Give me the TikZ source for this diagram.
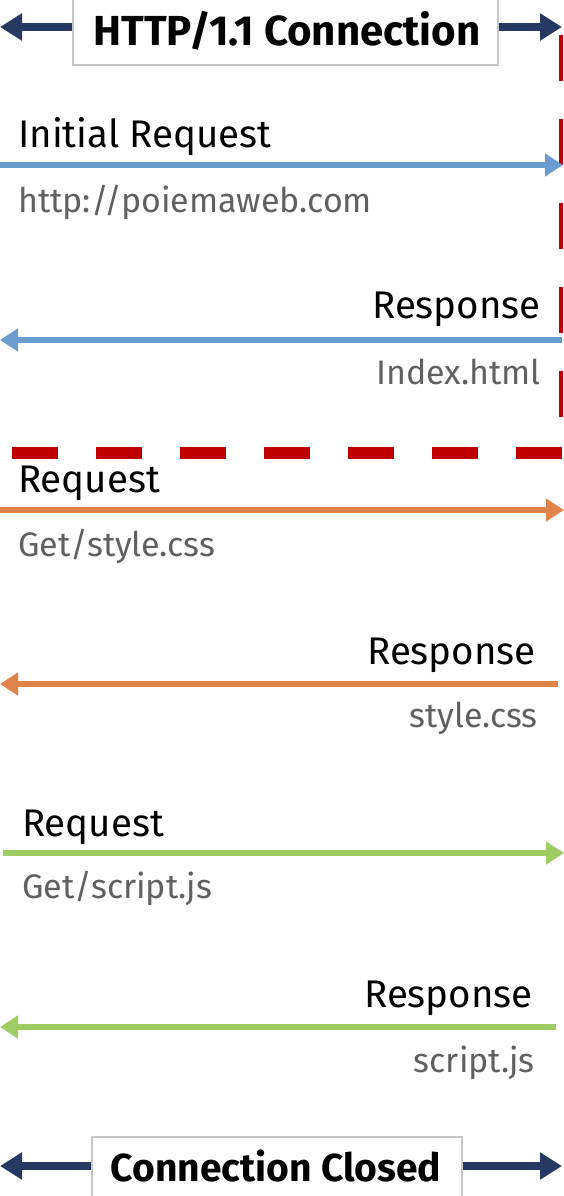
\documentclass[tikz,border=0pt]{standalone}
\usepackage{fontspec}
\setmainfont{Fira Sans}
\usepackage{tikz}
\usetikzlibrary{arrows.meta, positioning}
\definecolor{connnavy}{RGB}{38,57,98}
\definecolor{reqblue}{RGB}{106,156,210}
\definecolor{reqorange}{RGB}{224,131,72}
\definecolor{reqgreen}{RGB}{156,204,98}
\definecolor{sepred}{RGB}{192,0,0}
\definecolor{subgray}{RGB}{96,96,96}
\tikzset{
	connbox/.style={draw=black!22,line width=1.2pt,fill=white,inner sep=0pt},
	conntext/.style={inner sep=0pt,anchor=base,font=\fontsize{#1}{#1}\bfseries\selectfont},
	connarrow/.style={connnavy,line width=8pt,-{Triangle[length=22pt,width=26pt]}},
	msgarrow/.style={line width=6pt,-{Triangle[length=18pt,width=22pt]}},
	msglabel/.style={inner sep=0pt,font=\fontsize{38.5}{38.5}\selectfont},
	msgsub/.style={inner sep=0pt,text=subgray,font=\fontsize{34}{34}\selectfont},
}

\begin{document}
\begin{tikzpicture}[x=1pt,y=-1pt]
			\useasboundingbox (0,0) rectangle (564,1196);
			% red separators: connection kept open, then next requests
			\draw[sepred,line width=4pt,dash pattern=on 46pt off 38pt] (561,35) -- (561,420);
			\draw[sepred,line width=12pt,dash pattern=on 46pt off 38pt] (12,453) -- (564,453);
			% top: connection opened
			\node[connbox,minimum width=425pt,minimum height=76pt] (open) at (285.5,27) {};
			\node[conntext=42] (opentxt) at (287,46) {HTTP/1.1 Connection};
			\coordinate (openl) at (0,27);
			\coordinate (openr) at (562,27);
			\draw[connarrow] (open.west) -- (openl);
			\draw[connarrow] (open.east) -- (openr);
			% initial request / response
			\coordinate (m1l) at (0,165);
			\coordinate (m1r) at (563,165);
			\draw[msgarrow,reqblue] (m1l) -- (m1r);
			\node[msglabel,anchor=base west] (m1txt) at (18,147) {Initial Request};
			\node[msgsub,anchor=base west] (m1sub) at (18,212) {http://poiemaweb.com};
			\coordinate (m2r) at (562,340);
			\coordinate (m2l) at (0,340);
			\draw[msgarrow,reqblue] (m2r) -- (m2l);
			\node[msglabel,anchor=base east] (m2txt) at (541,318) {Response};
			\node[msgsub,anchor=base east] (m2sub) at (541,384) {Index.html};
			% style.css
			\coordinate (m3l) at (0,510);
			\coordinate (m3r) at (564,510);
			\draw[msgarrow,reqorange] (m3l) -- (m3r);
			\node[msglabel,anchor=base west] (m3txt) at (18,492) {Request};
			\node[msgsub,anchor=base west] (m3sub) at (18,556) {Get/style.css};
			\coordinate (m4r) at (558,684);
			\coordinate (m4l) at (0,684);
			\draw[msgarrow,reqorange] (m4r) -- (m4l);
			\node[msglabel,anchor=base east] (m4txt) at (536,664) {Response};
			\node[msgsub,anchor=base east] (m4sub) at (538,727) {style.css};
			% script.js
			\coordinate (m5l) at (3,853);
			\coordinate (m5r) at (564,853);
			\draw[msgarrow,reqgreen] (m5l) -- (m5r);
			\node[msglabel,anchor=base west] (m5txt) at (22,836) {Request};
			\node[msgsub,anchor=base west] (m5sub) at (22,898) {Get/script.js};
			\coordinate (m6r) at (556,1027);
			\coordinate (m6l) at (0,1027);
			\draw[msgarrow,reqgreen] (m6r) -- (m6l);
			\node[msglabel,anchor=base east] (m6txt) at (533,1007) {Response};
			\node[msgsub,anchor=base east] (m6sub) at (535,1072) {script.js};
			% bottom: connection closed
			\node[connbox,minimum width=370pt,minimum height=64pt] (close) at (277,1169) {};
			\node[conntext=39] (closetxt) at (276,1181) {Connection Closed};
			\coordinate (closel) at (0,1166);
			\coordinate (closer) at (562,1166);
			\draw[connarrow] (close.west |- closel) -- (closel);
			\draw[connarrow] (close.east |- closer) -- (closer);
\end{tikzpicture}
\end{document}
